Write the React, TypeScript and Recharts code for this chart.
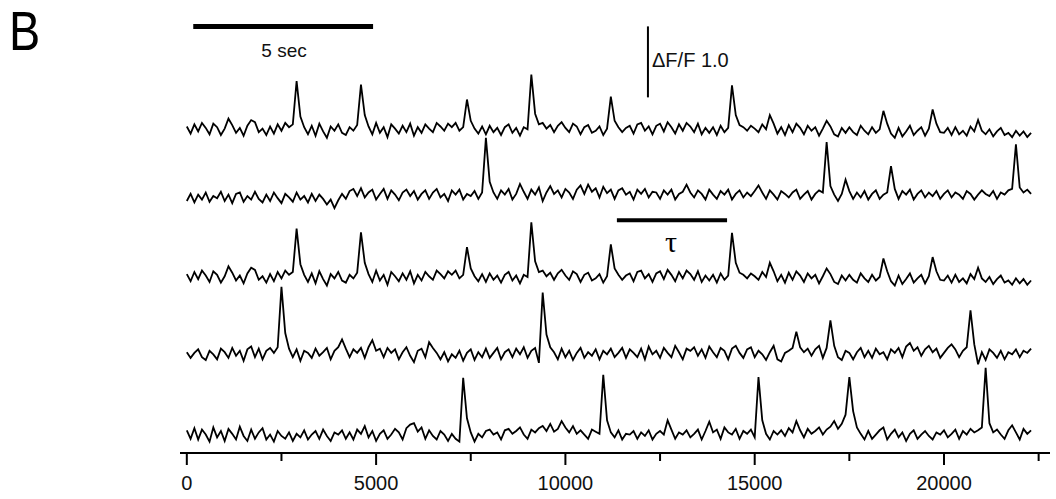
import { LineChart, Line, XAxis, YAxis, ReferenceLine } from 'recharts';

// sampling interval of the traces (x-axis units)
const SAMPLE_STEP = 100;

// ΔF/F x 100, relative to each trace's own baseline
const TRACE_1 = [
  4, -6, 7, -3, 9, 2, -7, 8, 3, -8, 1, 15, 6, -5, 2, -9, 5, 13, 10, -4,
  1, -8, 4, -6, 7, -2, 9, 3, 7, 68, 18, 3, -7, 5, -9, 8, -3, -12, 4, -2,
  7, -5, -8, 3, -2, 6, 63, 20, 4, -7, 9, -5, 3, -11, 7, 1, -6, 5, -4, 8,
  -9, 3, -5, 7, 1, -4, 9, 4, -2, 8, 3, 9, -2, 3, 42, 12, 1, -6, 4, -7,
  5, -4, 2, -8, 3, 7, -5, 2, -9, 3, 0, 77, 22, 7, 9, 1, 6, -4, 5, 10,
  2, -4, 8, 4, -7, 3, 6, -5, -2, 4, -8, 1, 46, 12, 3, -4, 2, 5, -6, 7,
  9, -2, 4, -7, 5, 8, -3, 10, 3, -6, 7, -2, 9, 4, -4, 8, -7, 2, -5, 3,
  -8, 5, -4, 2, 62, 20, 6, 3, -2, 5, 1, -4, 7, 0, 20, 8, -6, 3, -8, 6,
  -4, 8, 2, -7, 5, -2, 3, -9, 1, 12, 4, -7, -10, 2, -5, 3, -4, -8, 5, -2,
  -7, 3, -5, 0, 26, 8, -6, -12, 2, -10, -3, 5, -8, -2, 3, -9, 1, 28, 8, -4,
  -5, 2, -8, 3, -7, -2, -9, 4, -3, 13, -2, -7, 0, -10, -3, 2, -8, -5, -11, -2,
  -9, -3, -11, -5,
];

const TRACE_2 = [
  -7, 3, -9, 2, -5, 5, -8, 0, -3, 6, -7, 2, -10, 3, 5, -8, 0, -5, 6, -4,
  -9, 2, -7, 5, -3, -10, 3, -2, -8, 5, -5, 0, -9, 3, -7, 2, -4, -12, -5, -17,
  -6, 3, -4, 7, 10, 0, 11, -2, 5, 9, -5, 3, 10, -4, 8, 2, -6, 5, 9, 0,
  7, -5, 3, 8, -4, 5, 10, -2, 3, -7, 8, 2, 9, -5, 3, 0, 7, -4, 5, 82,
  20, 5, -4, 8, 2, 10, -5, 3, 17, 6, -4, 9, 2, 12, -7, 5, 14, 3, 8, -2,
  10, 5, -4, 9, 15, 3, 16, 6, 11, -2, 13, 4, 9, -4, 8, 11, 2, 6, -5, 9,
  3, 10, -2, 6, 5, -4, 8, 2, 9, -5, 3, 6, 16, 5, -2, 8, 3, -5, 9, 2,
  -4, 7, 2, 9, -5, 3, 8, -2, 5, 0, 7, 15, 5, -4, 8, 2, -5, 7, 3, -2,
  5, 9, -4, 2, 7, -5, 3, 8, 5, 76, 14, 2, -7, 3, 23, 7, -4, 5, -2, 7,
  -5, 3, 8, -4, 2, 5, 42, 10, -4, 7, 2, 9, -5, 3, 8, -2, 5, 0, 7, -4,
  3, 8, -2, 5, 2, -4, 7, 3, -5, 2, 8, 3, 0, 7, -4, 5, 2, 8, 10, 73,
  12, 5, 9, 3,
];

// the third trace repeats the first one
const TRACE_3 = TRACE_1;

const TRACE_4 = [
  3, -5, 2, 7, -4, -8, 5, 0, -7, 8, 3, -5, 9, -2, 5, -9, 7, 11, -4, 8,
  -7, 5, 9, 2, 10, 95, 30, 8, -4, 7, -9, 5, 2, -5, 8, -2, 3, 9, -7, 5,
  10, 21, 8, -4, 7, 2, 9, -5, 10, 20, 5, 8, -4, 9, 2, 7, -7, 3, 10, -2,
  -11, 5, 8, -4, 17, 9, 2, -7, 3, -10, 0, -5, 5, -9, 2, 7, -8, 3, -4, 8,
  -5, 2, 9, -7, 3, 7, -4, 8, 0, 10, -5, 5, 9, -12, 87, 28, 10, 3, -7, 8,
  -4, 5, -8, 2, 9, -5, 3, -2, 7, -7, 5, 0, 8, -4, 2, 9, -5, 7, 2, -4,
  8, -7, 11, 0, 5, -5, 9, 2, -4, 12, 3, -7, 8, 5, 10, -2, 7, -5, 11, 3,
  -4, 9, 5, -7, 8, 12, 2, -5, 7, 10, -4, 5, 0, -8, 3, 12, -7, -10, 2, 5,
  9, 32, 10, 3, 8, -2, 7, 12, -5, 9, 48, 12, -4, -8, 5, 2, -7, 3, 9, -4,
  5, -5, 8, 0, 3, -7, 7, 2, 9, -4, 11, 16, 5, 10, -2, 7, 12, 3, 8, -5,
  2, 9, 14, 7, -4, 5, 10, 62, 14, -14, 3, -8, 7, 2, -5, 5, -7, 3, 0, 7,
  -4, 5, 2, 8,
];

const TRACE_5 = [
  8, -4, 11, -5, 9, 2, -8, 12, -2, 7, -7, 10, 3, -5, 13, 0, -7, 9, -4, 5,
  11, -5, 2, -8, 7, 0, -4, 5, -7, 3, -2, 8, -5, 2, 7, -4, 9, 0, -7, 5,
  2, 8, -4, 5, -5, 9, 3, 14, -2, 7, -7, 3, 8, -4, 2, 10, 5, -5, 11, 16,
  18, 6, 12, -4, 8, 0, -5, 7, 2, -7, 3, -4, -8, 82, 25, 5, -8, 3, -2, 7,
  9, 2, 5, -5, 8, 10, 3, 7, 12, 2, -4, 9, 5, 11, 14, 7, 17, 6, 10, 21,
  12, 5, 14, 3, 8, 2, -4, 9, 6, 3, 86, 22, 5, -2, 8, -5, 3, 2, 7, -4,
  5, 0, 8, -5, 3, 7, 2, 22, 9, -4, 5, 2, 8, -2, 3, 9, -5, 7, 20, 5,
  9, -4, 12, 5, 2, 10, -4, 7, 3, 9, -2, 83, 22, 3, -5, 7, 2, 8, 0, 11,
  5, 21, 8, -2, 10, 3, 7, 12, 2, 9, 13, 21, 10, 17, 30, 83, 35, 12, 3, -5,
  7, -4, 2, 8, 12, -5, 3, 9, -2, 5, -7, 3, 8, -4, 2, 7, 0, -5, 5, 2,
  8, -2, 3, 9, -4, 7, 2, 10, 5, 8, 12, 96, 18, 5, 9, 2, -4, 8, 15, 5,
  -5, 10, 3, 8,
];

const TRACES = [TRACE_1, TRACE_2, TRACE_3, TRACE_4, TRACE_5];
// vertical offset of each trace, same units as the traces
const TRACE_OFFSETS = [456, 362, 248, 139, 24];

const X_TICKS = [0, 2500, 5000, 7500, 10000, 12500, 15000, 17500, 20000, 22500];
const X_DOMAIN = [-180, 22800];
const Y_DOMAIN = [0, 610];

// scale bars
const SEC_BAR = [170, 4920];
const SEC_BAR_Y = 601;
const DFF_BAR_X = 12180;
const DFF_BAR = [501, 601];
const TAU_BAR = [11360, 14270];
const TAU_BAR_Y = 328;

const data = TRACE_1.map((_, i) => {
  const row: Record<string, number> = { t: i * SAMPLE_STEP };
  TRACES.forEach((tr, k) => {
    row[`s${k}`] = TRACE_OFFSETS[k] + tr[i];
  });
  return row;
});

const FONT = '"Liberation Sans", Arial, sans-serif';

function AxisTick({ x, y, payload }: any) {
  const major = payload.value % 5000 === 0;
  return (
    <g>
      <line x1={x} x2={x} y1={y} y2={y + (major ? 12 : 8)} stroke="#000" strokeWidth={2} />
      {major && (
        <text x={x} y={y + 37} textAnchor="middle" fontSize={20} fontFamily={FONT} fill="#111">
          {payload.value}
        </text>
      )}
    </g>
  );
}

export default function App() {
  return (
    <div style={{ position: 'absolute', left: 0, top: 0, width: 1056, height: 499, background: '#fff' }}>
      <LineChart
        width={1056}
        height={499}
        data={data}
        margin={{ top: 20, right: 6, bottom: 6, left: 180 }}
      >
        <XAxis
          type="number"
          dataKey="t"
          domain={X_DOMAIN}
          ticks={X_TICKS}
          interval={0}
          allowDataOverflow
          tickSize={0}
          tickMargin={0}
          tickLine={false}
          axisLine={{ stroke: '#000', strokeWidth: 2 }}
          height={40}
          tick={<AxisTick />}
        />
        <YAxis hide type="number" domain={Y_DOMAIN} allowDataOverflow />
        {TRACES.map((_, k) => (
          <Line
            key={k}
            type="linear"
            dataKey={`s${k}`}
            stroke="#000"
            strokeWidth={1.8}
            dot={false}
            activeDot={false}
            isAnimationActive={false}
          />
        ))}
        <ReferenceLine
          segment={[{ x: SEC_BAR[0], y: SEC_BAR_Y }, { x: SEC_BAR[1], y: SEC_BAR_Y }]}
          stroke="#000"
          strokeWidth={5}
          ifOverflow="visible"
        />
        <ReferenceLine
          segment={[{ x: DFF_BAR_X, y: DFF_BAR[0] }, { x: DFF_BAR_X, y: DFF_BAR[1] }]}
          stroke="#000"
          strokeWidth={2}
          ifOverflow="visible"
        />
        <ReferenceLine
          segment={[{ x: TAU_BAR[0], y: TAU_BAR_Y }, { x: TAU_BAR[1], y: TAU_BAR_Y }]}
          stroke="#000"
          strokeWidth={4}
          ifOverflow="visible"
        />
      </LineChart>
      <svg
        width={1056}
        height={499}
        style={{ position: 'absolute', left: 0, top: 0, pointerEvents: 'none' }}
      >
        <text transform="translate(9,50) scale(0.85,1)" fontSize={55} fontFamily={FONT} fill="#000">
          B
        </text>
        <text x={284} y={57} textAnchor="middle" fontSize={19} fontFamily={FONT} fill="#111">
          5 sec
        </text>
        <text x={652} y={67} fontSize={20} fontFamily={FONT} fill="#111">
          ΔF/F 1.0
        </text>
        <text x={671} y={252} textAnchor="middle" fontSize={30} fontFamily='"Liberation Serif", serif' fill="#000">
          τ
        </text>
      </svg>
    </div>
  );
}
